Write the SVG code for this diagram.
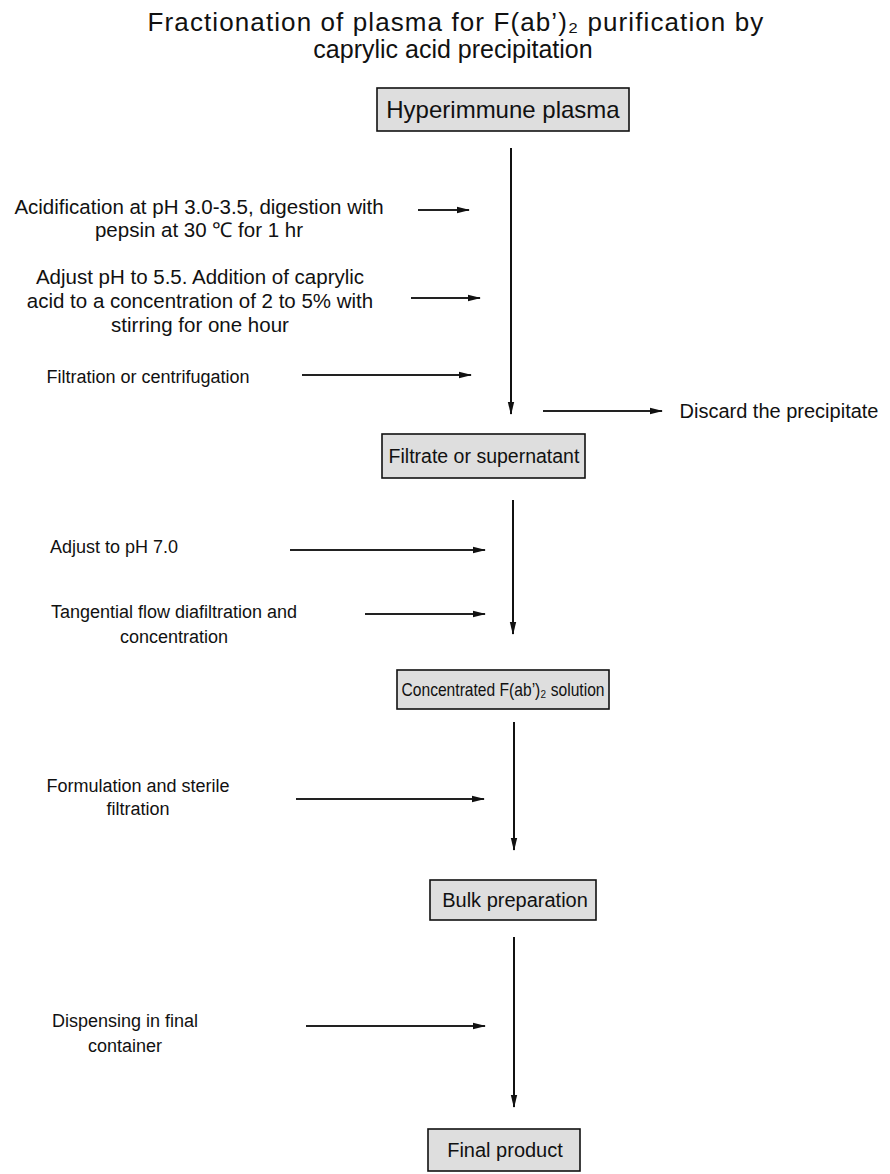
<svg xmlns="http://www.w3.org/2000/svg" width="890" height="1174" viewBox="0 0 890 1174">
  <defs>
    <marker id="head" markerWidth="13" markerHeight="8" refX="12" refY="4" orient="auto" markerUnits="userSpaceOnUse">
      <path d="M0,0.8 L13,4 L0,7.2 Z" fill="#111"/>
    </marker>
  </defs>
  <style>
    .title { font-family: "Liberation Sans", "DejaVu Sans", Arial, sans-serif; font-size: 25px; fill: #111; text-anchor: middle; }
    .box { fill: #dedede; stroke: #111; stroke-width: 1.6; }
    .boxtext { font-family: "Liberation Sans", "DejaVu Sans", Arial, sans-serif; font-size: 20px; fill: #111; text-anchor: middle; }
    .label { font-family: "Liberation Sans", Arial, sans-serif; font-size: 18px; fill: #111; text-anchor: middle; }
    .big { font-size: 20.5px; }
    .flow { stroke: #111; stroke-width: 2; fill: none; marker-end: url(#head); }
    .side { stroke: #222; stroke-width: 1.8; fill: none; marker-end: url(#head); }
  </style>
  <rect width="890" height="1174" fill="#fff"/>

  <!-- heading -->
  <g id="title">
    <text class="title" x="456" y="31" style="font-size:26px;letter-spacing:1.1px">Fractionation of plasma for F(ab’)₂ purification by</text>
    <text class="title" x="453" y="58">caprylic acid precipitation</text>
  </g>

  <!-- process stages -->
  <g id="hyperimmune-plasma">
    <rect class="box" x="377" y="88" width="252" height="43"/>
    <text class="boxtext" x="503" y="118" style="font-size:24px">Hyperimmune plasma</text>
  </g>
  <g id="filtrate">
    <rect class="box" x="382" y="434" width="203" height="44"/>
    <text class="boxtext" x="484" y="463" style="font-size:19.5px">Filtrate or supernatant</text>
  </g>
  <g id="concentrated">
    <rect class="box" x="397" y="670" width="212" height="39"/>
    <text class="boxtext" x="503" y="696" style="font-size:19px" textLength="203" lengthAdjust="spacingAndGlyphs">Concentrated F(ab’)₂ solution</text>
  </g>
  <g id="bulk">
    <rect class="box" x="430" y="880" width="166" height="40"/>
    <text class="boxtext" x="515" y="907">Bulk preparation</text>
  </g>
  <g id="final">
    <rect class="box" x="428" y="1129" width="152" height="42"/>
    <text class="boxtext" x="505" y="1157">Final product</text>
  </g>

  <!-- treatment steps -->
  <g id="step-acidification">
    <text class="label big" x="199" y="214">Acidification at pH 3.0-3.5, digestion with</text>
    <text class="label big" x="199" y="237">pepsin at 30 ℃ for 1 hr</text>
  </g>
  <g id="step-caprylic">
    <text class="label big" x="200" y="284">Adjust pH to 5.5. Addition of caprylic</text>
    <text class="label big" x="200" y="308">acid to a concentration of 2 to 5% with</text>
    <text class="label big" x="200" y="332">stirring for one hour</text>
  </g>
  <g id="step-filtration">
    <text class="label" x="148" y="383">Filtration or centrifugation</text>
  </g>
  <g id="step-discard">
    <text class="label" x="779" y="418" style="font-size:20px">Discard the precipitate</text>
  </g>
  <g id="step-ph7">
    <text class="label" x="114" y="553">Adjust to pH 7.0</text>
  </g>
  <g id="step-diafiltration">
    <text class="label" x="174" y="618">Tangential flow diafiltration and</text>
    <text class="label" x="174" y="643">concentration</text>
  </g>
  <g id="step-formulation">
    <text class="label" x="138" y="792">Formulation and sterile</text>
    <text class="label" x="138" y="815">filtration</text>
  </g>
  <g id="step-dispensing">
    <text class="label" x="125" y="1027">Dispensing in final</text>
    <text class="label" x="125" y="1052">container</text>
  </g>

  <!-- connectors -->
  <g id="connectors">
    <line class="flow" x1="511" y1="148" x2="511" y2="414"/>
    <line class="flow" x1="513" y1="500" x2="513" y2="634"/>
    <line class="flow" x1="514" y1="722" x2="514" y2="850"/>
    <line class="flow" x1="514" y1="937" x2="514" y2="1107"/>

    <line class="side" x1="418" y1="210" x2="469" y2="210"/>
    <line class="side" x1="411" y1="298" x2="480" y2="298"/>
    <line class="side" x1="302" y1="375" x2="471" y2="375"/>
    <line class="side" x1="543" y1="411" x2="662" y2="411"/>
    <line class="side" x1="290" y1="550" x2="485" y2="550"/>
    <line class="side" x1="365" y1="614" x2="485" y2="614"/>
    <line class="side" x1="296" y1="799" x2="484" y2="799"/>
    <line class="side" x1="306" y1="1026" x2="485" y2="1026"/>
  </g>
</svg>
